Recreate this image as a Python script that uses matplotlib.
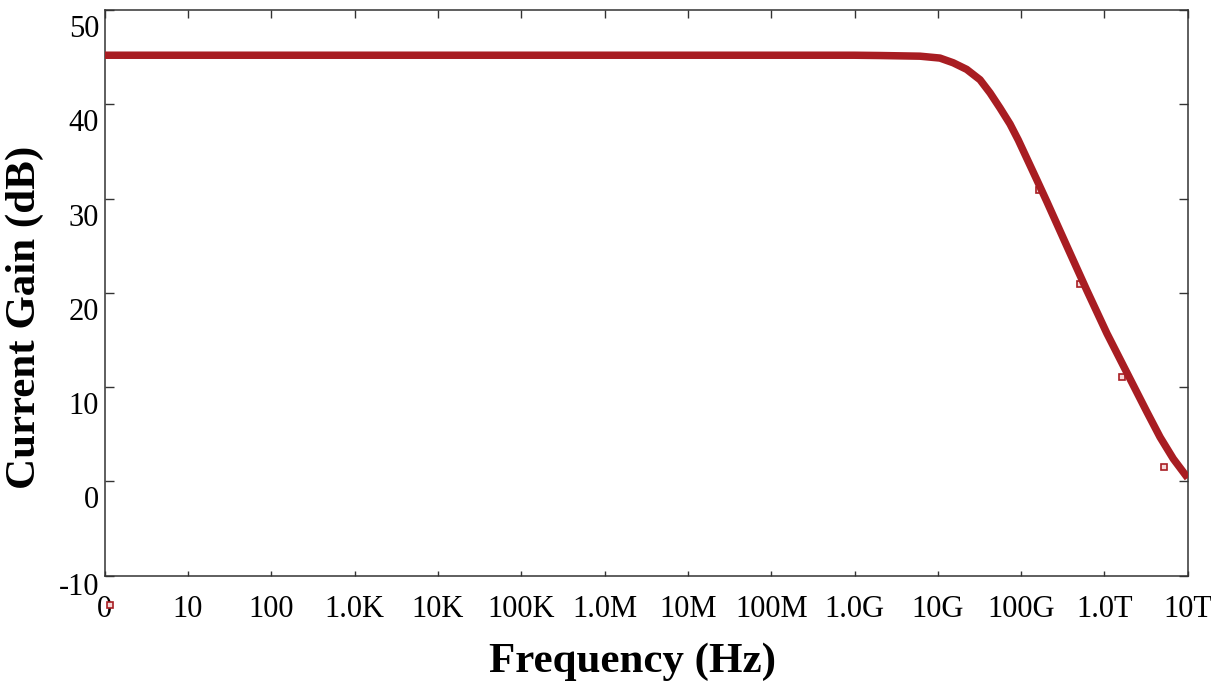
import numpy as np
import matplotlib
matplotlib.use('Agg')
import matplotlib.pyplot as plt
from matplotlib.transforms import ScaledTranslation

# current gain (Hz, dB)
freq = [1, 10, 1e2, 1e3, 1e4, 1e5, 1e6, 1e7, 1e8, 1e9, 2.04e9, 6.1e9, 1.06e10,
        1.53e10, 2.22e10, 3.21e10, 4.24e10, 5.58e10, 7.36e10, 9.25e10, 1.54e11,
        2.03e11, 3.52e11, 6.12e11, 1.07e12, 2.22e12, 3.22e12, 4.65e12, 6.71e12, 1e13]
gain = [45.2, 45.2, 45.2, 45.2, 45.2, 45.2, 45.2, 45.2, 45.2, 45.2, 45.17, 45.1, 44.9,
        44.4, 43.7, 42.6, 41.2, 39.6, 37.9, 36.2, 32.0,
        29.7, 25.0, 20.3, 15.7, 10.2, 7.4, 4.7, 2.4, 0.36]

# the small square markers of the trace
mark_freq = [1.16, 1.62e11, 5.1e11, 1.62e12, 5.2e12]
mark_gain = [-13.1, 30.9, 20.9, 11.06, 1.49]

xticks = [1, 10, 1e2, 1e3, 1e4, 1e5, 1e6, 1e7, 1e8, 1e9, 1e10, 1e11, 1e12, 1e13]
xlabels = ['0', '10', '100', '1.0K', '10K', '100K', '1.0M', '10M', '100M',
           '1.0G', '10G', '100G', '1.0T', '10T']
yticks = [-10, 0, 10, 20, 30, 40, 50]

plt.rcParams['font.family'] = ['Liberation Serif', 'DejaVu Serif']
red = '#a81d22'

fig = plt.figure(figsize=(12.11, 6.88), dpi=100)
ax = fig.add_axes([0.0865, 0.1632, 0.8943, 0.8223])

ax.plot(mark_freq, mark_gain, 's', ms=4, mfc='#f6dada', mec=red, mew=1.2,
        clip_on=False, zorder=2)
ax.plot(freq, gain, color=red, lw=5.4, solid_capstyle='butt',
        solid_joinstyle='round', zorder=3)

ax.set_xscale('log')
ax.set_xlim(1, 1e13)
ax.set_ylim(-10, 50)
ax.set_xticks(xticks)
ax.set_xticklabels(xlabels)
ax.minorticks_off()
ax.set_yticks(yticks)
ax.set_yticklabels([str(v) for v in yticks])

for s in ax.spines.values():
    s.set_linewidth(1.1)
    s.set_color('#333333')

ax.tick_params(axis='y', direction='in', length=6.5, width=1, color='#333333',
               left=True, right=True, labelsize=22, pad=4)
ax.tick_params(axis='x', which='major', direction='in', length=3.6, width=1,
               color='#333333', labelsize=22, pad=14)
ax.tick_params(axis='x', top=True)
for t in ax.xaxis.get_major_ticks():
    t.tick2line.set_markersize(6)

# y labels sit below their ticks in the original
for lab, v in zip(ax.get_yticklabels(), yticks):
    dy = -8 if v == -10 else -16
    lab.set_transform(lab.get_transform() + ScaledTranslation(0, dy / 100, fig.dpi_scale_trans))

ax.set_xlabel('Frequency (Hz)', fontsize=31, fontweight='bold')
ax.xaxis.set_label_coords(0.4877, -0.118)
ax.set_ylabel('Current Gain (dB)', fontsize=31, fontweight='bold')
ax.yaxis.set_label_coords(-0.056, 0.457)

fig.savefig('out.png', dpi=100)
